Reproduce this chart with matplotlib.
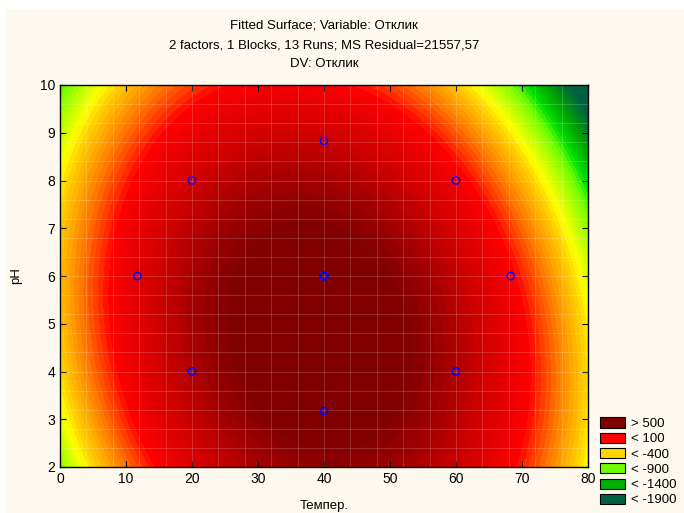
import numpy as np
import matplotlib
matplotlib.use('Agg')
import matplotlib.pyplot as plt
import matplotlib.patches as mpatches
from matplotlib.colors import to_rgb

plt.rcParams['font.family'] = ['Liberation Sans', 'DejaVu Sans']

# design points (13 runs, центральная точка повторена)
temp_pts = [40, 20, 60, 11.72, 40, 68.28, 20, 60, 40, 40, 40, 40, 40]
ph_pts = [8.83, 8, 8, 6, 6, 6, 4, 4, 3.17, 6, 6, 6, 6]

# fitted quadratic in coded units u=(T-40)/20, v=(pH-6)/2
b0, b1, b2 = 992.0, -70.0, -171.0
b11, b22, b12 = -400.0, -136.0, -70.0

# colour anchors of the spectrum (value -> colour)
anchor_val = [-1650, -1350, -1150, -1000, -850, -650, -550, -350, -200, 0, 50, 480, 880]
anchor_col = ['#006040', '#00a800', '#00e000', '#70ff00', '#b0ff00', '#ffff00', '#ffd700',
              '#ffa000', '#ff7000', '#ff2000', '#ff0000', '#cc0000', '#800000']

leg_labels = ['> 500', '< 100', '< -400', '< -900', '< -1400', '< -1900']
leg_cols = ['#800000', '#ff0000', '#ffd700', '#70ff00', '#00b000', '#006040']

T = np.linspace(0, 80, 401)
P = np.linspace(2, 10, 401)
TT, PP = np.meshgrid(T, P)
u = (TT - 40) / 20.0
v = (PP - 6) / 2.0
Z = b0 + b1*u + b2*v + b11*u**2 + b22*v**2 + b12*u*v

# bands 50 wide, colour taken at the middle of each band
inner = np.arange(-1800, 951, 50)
levels = np.concatenate([[-1e5], inner, [1e5]])
mids = np.concatenate([[inner[0] - 25], (inner[:-1] + inner[1:]) / 2.0, [inner[-1] + 25]])
rgb = np.array([to_rgb(c) for c in anchor_col])
band_col = [tuple(np.interp(m, anchor_val, rgb[:, k]) for k in range(3)) for m in mids]

fig = plt.figure(figsize=(6.84, 5.13), dpi=100, facecolor='white')
fig.patches.append(mpatches.Rectangle((5/684., 0), 1, 1 - 9/513., transform=fig.transFigure,
                                      facecolor='#fdf9ef', edgecolor='none', zorder=-10))
ax = fig.add_axes([60/684., 46/513., 528/684., 382/513.])

ax.contourf(TT, PP, Z, levels=levels, colors=band_col)

# faint mesh lines
for xv in np.arange(0, 81, 4):
    ax.axvline(xv, color='white', lw=0.6, alpha=0.2)
for yv in np.arange(2, 10.01, 0.4):
    ax.axhline(yv, color='white', lw=0.6, alpha=0.2)

ax.scatter(temp_pts, ph_pts, s=28, facecolors='none', edgecolors='#0000ff', linewidths=1.0, zorder=5)

ax.set_xlim(0, 80)
ax.set_ylim(2, 10)
ax.set_xticks(np.arange(0, 81, 10))
ax.set_yticks(np.arange(2, 11, 1))
ax.tick_params(direction='in', top=True, right=True, length=4, labelsize=10, width=0.8)
ax.set_xlabel('Темпер.', fontsize=9.5, labelpad=10)
ax.set_ylabel('pH', fontsize=9.5, labelpad=13)
for s in ax.spines.values():
    s.set_linewidth(1.0)

fig.text(324/684., 1 - 26/513., 'Fitted Surface; Variable: Отклик', ha='center', va='center', fontsize=9.5)
fig.text(324/684., 1 - 45/513., '2 factors, 1 Blocks, 13 Runs; MS Residual=21557,57', ha='center', va='center', fontsize=9.5)
fig.text(324/684., 1 - 64/513., 'DV: Отклик', ha='center', va='center', fontsize=9.5)

handles = [mpatches.Patch(facecolor=c, edgecolor='black', linewidth=0.8) for c in leg_cols]
fig.legend(handles, leg_labels, loc='lower left', bbox_to_anchor=(593/684., 0),
           frameon=False, fontsize=9.5, handlelength=1.9, handleheight=0.8,
           labelspacing=0.2, handletextpad=0.5, borderaxespad=0.1)

fig.savefig('out.png', dpi=100, facecolor=fig.get_facecolor())
